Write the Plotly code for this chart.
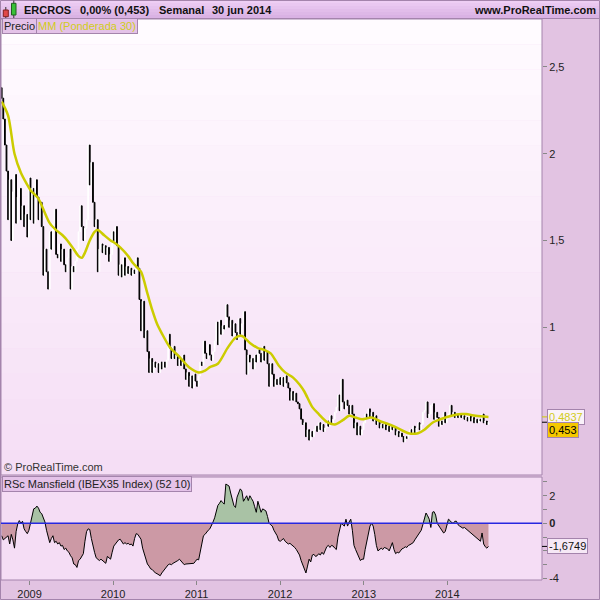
import plotly.graph_objects as go
import pandas as pd

# weekly closes (week of 2008-09-01 .. 2014-06-30)
first_open = 2.38
close_2008 = [2.32, 2.20, 2.05, 1.90, 1.62, 1.85, 1.50, 1.78, 1.88, 1.60,
              1.75, 1.80, 1.62, 1.70, 1.58, 1.65, 1.52, 1.86]
close_2009 = [1.62, 1.80, 1.60, 1.85, 1.75, 1.62, 1.72, 1.58, 1.30, 1.45,
              1.32, 1.22, 1.55, 1.45, 1.60, 1.68, 1.42, 1.40, 1.48, 1.38,
              1.45, 1.36, 1.32, 1.40, 1.45, 1.22, 1.35, 1.32, 1.38, 1.45,
              1.55, 1.70, 1.58, 1.50, 1.57, 1.62, 2.05, 1.82, 1.95, 1.72,
              1.58, 1.62, 1.32, 1.45, 1.48, 1.43, 1.47, 1.42, 1.46, 1.38,
              1.42, 1.55]
close_2010 = [1.50, 1.58, 1.47, 1.30, 1.36, 1.29, 1.40, 1.30, 1.35, 1.31,
              1.34, 1.30, 1.33, 1.31, 1.40, 1.34, 1.16, 0.98, 1.15, 0.94,
              0.98, 0.86, 0.74, 0.82, 0.74, 0.80, 0.77, 0.79, 0.74, 0.80,
              0.76, 0.80, 0.77, 0.81, 0.96, 0.88, 0.82, 0.89, 0.82, 0.84,
              0.78, 0.82, 0.78, 0.84, 0.76, 0.70, 0.74, 0.66, 0.72, 0.65,
              0.73, 0.69]
close_2011 = [0.66, 0.72, 0.80, 0.78, 0.92, 0.85, 0.82, 0.90, 0.84, 0.81,
              0.86, 0.92, 1.03, 0.90, 1.04, 0.96, 1.01, 0.99, 1.13, 1.06,
              1.00, 1.04, 0.95, 1.02, 0.97, 0.93, 1.05, 0.96, 1.02, 1.09,
              0.87, 0.73, 0.84, 0.80, 0.82, 0.76, 0.84, 0.80, 0.87, 0.85,
              0.80, 0.89, 0.81, 0.86, 0.79, 0.66, 0.79, 0.73, 0.66, 0.70,
              0.67, 0.71]
close_2012 = [0.67, 0.71, 0.66, 0.72, 0.68, 0.65, 0.58, 0.63, 0.58, 0.62,
              0.57, 0.56, 0.53, 0.47, 0.44, 0.45, 0.37, 0.41, 0.35, 0.40,
              0.37, 0.41, 0.43, 0.40, 0.45, 0.41, 0.44, 0.40, 0.42, 0.46,
              0.43, 0.49, 0.45, 0.47, 0.51, 0.54, 0.61, 0.52, 0.70, 0.57,
              0.53, 0.58, 0.55, 0.50, 0.55, 0.50, 0.42, 0.45, 0.38, 0.43,
              0.38, 0.41, 0.45]
close_2013 = [0.50, 0.48, 0.53, 0.48, 0.51, 0.46, 0.49, 0.44, 0.46, 0.42,
              0.44, 0.42, 0.44, 0.41, 0.43, 0.40, 0.43, 0.41, 0.42, 0.38,
              0.40, 0.37, 0.39, 0.37, 0.34, 0.37, 0.36, 0.38, 0.41, 0.39,
              0.43, 0.39, 0.42, 0.45, 0.41, 0.44, 0.51, 0.52, 0.57, 0.48,
              0.50, 0.55, 0.56, 0.47, 0.51, 0.48, 0.43, 0.46, 0.44, 0.51,
              0.45, 0.48]
close_2014 = [0.50, 0.55, 0.49, 0.51, 0.48, 0.50, 0.48, 0.50, 0.48, 0.49,
              0.47, 0.48, 0.46, 0.49, 0.46, 0.48, 0.45, 0.47, 0.45, 0.47,
              0.46, 0.50, 0.45, 0.46, 0.44, 0.453]

# weighted MA 30, read at some weeks (index into weekly series)
ma_week = [0, 4, 8, 12, 16, 18, 23, 26, 30, 34, 38, 41, 45, 48, 50, 52, 55, 58,
           60, 64, 68, 70, 74, 79, 82, 84, 87, 91, 94, 97, 100, 105, 111, 117,
           123, 127, 130, 135, 141, 146, 150, 155, 160, 164, 168, 173, 177, 182,
           186, 189, 194, 198, 203, 208, 213, 217, 221, 225, 231, 236, 242, 247,
           254, 260, 264, 269, 274, 281, 287, 290, 296, 304]
ma_value = [2.30, 2.22, 2.00, 1.89, 1.82, 1.79, 1.74, 1.68, 1.60, 1.56, 1.53,
            1.50, 1.45, 1.41, 1.40, 1.43, 1.50, 1.55, 1.56, 1.53, 1.50, 1.49,
            1.46, 1.41, 1.37, 1.35, 1.32, 1.195, 1.10, 1.02, 0.965, 0.885,
            0.83, 0.77, 0.74, 0.75, 0.77, 0.79, 0.88, 0.94, 0.95, 0.91, 0.88,
            0.87, 0.85, 0.78, 0.74, 0.71, 0.67, 0.63, 0.54, 0.50, 0.455, 0.44,
            0.465, 0.49, 0.48, 0.47, 0.48, 0.46, 0.44, 0.42, 0.39, 0.39, 0.41,
            0.45, 0.47, 0.49, 0.50, 0.50, 0.49, 0.4837]

# RSc Mansfield (IBEX35), weekly
rsc_2008 = [-0.9, -1.2, -1.1, -1.0, -0.9, -1.5, -0.8, -1.2, -1.8, -0.6,
            -0.05, 0.2, 0.0, 0.15, -0.4, -0.6, -0.75, -0.5]
rsc_2009 = [0.0, 0.6, 1.05, 1.1, 1.25, 1.1, 0.8, 0.7, 0.4, 0.1,
            -0.5, -1.0, -1.4, -1.1, -0.9, -1.4, -1.3, -1.5, -1.4, -1.65,
            -1.6, -1.9, -1.8, -2.0, -2.1, -2.35, -2.5, -2.95, -3.0, -3.2,
            -2.7, -2.6, -2.4, -2.2, -1.3, -0.6, -0.4, -0.45, -1.1, -1.7,
            -2.1, -2.5, -2.6, -2.7, -2.6, -2.7, -2.8, -2.9, -2.4, -2.5,
            -2.6, -2.1]
rsc_2010 = [-1.65, -1.5, -1.3, -1.2, -1.15, -1.3, -1.5, -1.4, -1.5, -1.45,
            -1.55, -1.5, -1.65, -1.1, -0.75, -0.8, -1.0, -1.15, -1.8, -2.2,
            -2.6, -2.95, -3.1, -3.3, -3.35, -3.5, -3.6, -3.65, -3.7, -3.8,
            -3.6, -3.45, -3.3, -3.2, -3.0, -2.95, -3.0, -2.9, -2.85, -2.8,
            -2.7, -2.6, -2.75, -2.9, -3.0, -2.95, -2.95, -2.9, -2.95, -2.9,
            -2.9, -2.75]
rsc_2011 = [-2.6, -2.65, -2.1, -1.3, -0.9, -0.8, -0.6, -0.5, -0.4, -0.2,
            0.1, 0.4, 0.9, 1.3, 1.45, 1.65, 1.5, 1.4, 2.85, 2.8,
            2.7, 2.2, 1.7, 1.3, 1.15, 1.9, 2.2, 2.5, 2.35, 1.6,
            1.8, 2.0, 1.65, 2.0, 1.8, 1.6, 1.2, 0.8, 1.6, 1.2,
            0.8, 1.05, 0.95, 0.9, 0.5, 0.0, -0.1, -0.2, -0.5, -0.7,
            -0.9, -1.25]
rsc_2012 = [-1.3, -1.2, -1.1, -1.3, -1.4, -1.5, -1.45, -1.55, -1.6, -1.75,
            -1.9, -2.1, -2.3, -2.7, -3.05, -3.3, -3.6, -3.1, -2.6, -2.8,
            -2.3, -2.25, -2.4, -2.35, -2.2, -2.3, -2.1, -2.25, -1.9, -1.7,
            -1.6, -1.75, -1.6, -1.65, -1.8, -1.9, -1.0, -0.5, 0.0, -0.1,
            -0.2, 0.3, -0.2, 0.1, 0.3, -0.5, -1.6, -1.9, -2.2, -2.5,
            -2.7, -2.6, -2.6]
rsc_2013 = [-1.9, -1.3, -0.6, -0.2, 0.0, -0.2, -0.8, -1.6, -2.0, -1.9,
            -1.8, -1.9, -1.75, -1.8, -1.85, -2.0, -1.7, -1.4, -1.9, -2.2,
            -2.1, -2.15, -2.0, -1.85, -1.8, -1.7, -1.75, -1.6, -1.55, -1.45,
            -1.4, -1.2, -1.0, -0.8, -0.7, -0.5, -0.1, 0.45, 0.75, 0.55,
            0.3, -0.3, 0.8, 0.85, 0.6, 0.0, -0.2, -0.3, -0.6, -0.7,
            -0.6, -0.2]
rsc_2014 = [0.3, 0.2, 0.05, 0.0, 0.15, 0.15, -0.1, -0.2, -0.25, -0.35,
            -0.3, -0.4, -0.5, -0.6, -0.75, -0.8, -0.9, -1.0, -1.1, -1.2,
            -1.3, -0.7, -1.5, -1.7, -1.8, -1.6749]

years = ["2009", "2010", "2011", "2012", "2013", "2014"]
price_ticks = [1, 1.5, 2, 2.5]
price_labels = ["1", "1,5", "2", "2,5"]

closes = close_2008 + close_2009 + close_2010 + close_2011 + close_2012 + close_2013 + close_2014
rsc = rsc_2008 + rsc_2009 + rsc_2010 + rsc_2011 + rsc_2012 + rsc_2013 + rsc_2014
weeks = pd.date_range("2008-09-01", periods=len(closes), freq="7D")

opens = [first_open] + closes[:-1]
highs = [max(o, c) for o, c in zip(opens, closes)]
lows = [min(o, c) for o, c in zip(opens, closes)]

W, H = 600, 600
L, R, T, B = 1, 58, 19, 20
BORDER = "#A484AC"
FONT = "Arial, Liberation Sans, sans-serif"


def px_x(p):
    return (p - L) / (W - L - R)


def px_y(p):
    return (H - B - p) / (H - T - B)


def mix(c0, c1, t):
    return "rgb(%d,%d,%d)" % tuple(round(a + (b - a) * t) for a, b in zip(c0, c1))


fig = go.Figure()

fig.add_trace(go.Candlestick(
    x=weeks, open=opens, high=highs, low=lows, close=closes,
    increasing=dict(line=dict(color="white", width=1), fillcolor="white"),
    decreasing=dict(line=dict(color="black", width=1), fillcolor="black"),
    whiskerwidth=0, hoverinfo="skip", showlegend=False, xaxis="x", yaxis="y"))

fig.add_trace(go.Scatter(
    x=weeks[ma_week], y=ma_value, mode="lines",
    line=dict(color="#CCCC00", width=2.5, shape="spline", smoothing=0.8),
    hoverinfo="skip", showlegend=False, xaxis="x", yaxis="y"))

pos = [max(v, 0) for v in rsc]
neg = [min(v, 0) for v in rsc]
fig.add_trace(go.Scatter(x=weeks, y=pos, mode="lines", fill="tozeroy",
                         fillcolor="#A9C2A5", line=dict(width=0),
                         hoverinfo="skip", showlegend=False, yaxis="y2"))
fig.add_trace(go.Scatter(x=weeks, y=neg, mode="lines", fill="tozeroy",
                         fillcolor="#CC99A5", line=dict(width=0),
                         hoverinfo="skip", showlegend=False, yaxis="y2"))
fig.add_trace(go.Scatter(x=weeks, y=rsc, mode="lines",
                         line=dict(color="black", width=1),
                         hoverinfo="skip", showlegend=False, yaxis="y2"))

shapes = []
# header bar gradient
n = 6
for k in range(n):
    y0, y1 = k * 18 / n, (k + 1) * 18 / n
    shapes.append(dict(type="rect", xref="paper", yref="paper", layer="below",
                       x0=px_x(0), x1=px_x(600), y0=px_y(y1), y1=px_y(y0),
                       fillcolor=mix((238, 206, 244), (218, 178, 228), k / (n - 1)),
                       line=dict(width=0)))
# price panel gradient
n = 18
for k in range(n):
    y0 = 19 + k * (475 - 19) / n
    y1 = 19 + (k + 1) * (475 - 19) / n
    shapes.append(dict(type="rect", xref="paper", yref="paper", layer="below",
                       x0=0, x1=1, y0=px_y(y1), y1=px_y(y0),
                       fillcolor=mix((255, 251, 255), (245, 222, 245), k / (n - 1)),
                       line=dict(width=0)))
# panel borders
shapes.append(dict(type="line", xref="paper", yref="paper", x0=px_x(0), x1=px_x(600),
                   y0=px_y(18.5), y1=px_y(18.5), line=dict(color=BORDER, width=1)))
shapes.append(dict(type="rect", xref="paper", yref="paper", x0=0, x1=1,
                   y0=px_y(475), y1=1, line=dict(color=BORDER, width=1)))
shapes.append(dict(type="rect", xref="paper", yref="paper", x0=0, x1=1,
                   y0=0, y1=px_y(477), line=dict(color=BORDER, width=1)))
shapes.append(dict(type="rect", xref="paper", yref="paper", x0=px_x(0.5), x1=px_x(599.5),
                   y0=px_y(599.5), y1=px_y(0.5), line=dict(color=BORDER, width=1)))
# zero line of RSc
shapes.append(dict(type="line", xref="paper", yref="y2", x0=0, x1=1, y0=0, y1=0,
                   line=dict(color="#2828E0", width=1.5)))
# small ticks next to last values
shapes.append(dict(type="line", xref="paper", yref="y", x0=1, x1=px_x(547),
                   y0=ma_value[-1], y1=ma_value[-1], line=dict(color="#CCCC00", width=1)))
shapes.append(dict(type="line", xref="paper", yref="y", x0=1, x1=px_x(547),
                   y0=closes[-1], y1=closes[-1], line=dict(color="black", width=1)))
shapes.append(dict(type="line", xref="paper", yref="y2", x0=1, x1=px_x(547),
                   y0=rsc[-1], y1=rsc[-1], line=dict(color="black", width=1)))
# header candle icon
for x, yt, yb, col in [(5.8, 7, 19, "#333333"), (13.8, 0.5, 18, "#333333")]:
    shapes.append(dict(type="line", xref="paper", yref="paper", x0=px_x(x), x1=px_x(x),
                       y0=px_y(yb), y1=px_y(yt), line=dict(color=col, width=1)))
shapes.append(dict(type="rect", xref="paper", yref="paper", x0=px_x(3.3), x1=px_x(8.3),
                   y0=px_y(16.7), y1=px_y(10), fillcolor="#E04848",
                   line=dict(color="#802020", width=1)))
shapes.append(dict(type="rect", xref="paper", yref="paper", x0=px_x(11.5), x1=px_x(16),
                   y0=px_y(15), y1=px_y(3.3), fillcolor="#38C038",
                   line=dict(color="#206020", width=1)))

ann = []


def text(x, y, s, size=11, color="#111111", anchor="left", **kw):
    d = dict(xref="paper", yref="paper", x=px_x(x), y=px_y(y), text=s, showarrow=False,
             xanchor=anchor, yanchor="middle", font=dict(family=FONT, size=size, color=color))
    d.update(kw)
    ann.append(d)


text(22, 10, "<b>ERCROS</b>")
text(78, 10, "<b>0,00% (0,453)</b>")
text(157, 10, "<b>Semanal</b>")
text(210, 10, "<b>30 jun 2014</b>")
text(598, 10, "<b>www.ProRealTime.com</b>", anchor="right")
box = dict(bgcolor="#E4C2E8", bordercolor=BORDER, borderwidth=1, borderpad=1)
text(1.5, 26, "Precio", color="#222222", **box)
text(35.5, 26, "MM (Ponderada 30)", color="#D0CC20", **box)
text(2, 467, "© ProRealTime.com", color="#333333")
text(1.5, 484, "RSc Mansfield (IBEX35 Index) (52 10)", color="#222222", **box)

ann.append(dict(xref="paper", yref="y", x=px_x(547), y=ma_value[-1], text="0,4837",
                showarrow=False, xanchor="left", yanchor="middle",
                font=dict(family=FONT, size=11, color="#D0CC20"),
                bgcolor="#FAF2FA", bordercolor=BORDER, borderwidth=1, borderpad=1))
ann.append(dict(xref="paper", yref="y", x=px_x(547), y=closes[-1], yshift=-8, text="0,453",
                showarrow=False, xanchor="left", yanchor="middle",
                font=dict(family=FONT, size=11, color="black"),
                bgcolor="#F5C800", bordercolor=BORDER, borderwidth=1, borderpad=1))
ann.append(dict(xref="paper", yref="y2", x=px_x(547), y=rsc[-1], text="-1,6749",
                showarrow=False, xanchor="left", yanchor="middle",
                font=dict(family=FONT, size=11, color="#111111"),
                bgcolor="#F6E8F6", bordercolor=BORDER, borderwidth=1, borderpad=1))

tickfont = dict(family=FONT, size=11, color="#222222")
fig.update_layout(
    width=W, height=H,
    margin=dict(l=L, r=R, t=T, b=B),
    paper_bgcolor="#E2C3E2",
    plot_bgcolor="#F5DDF5",
    showlegend=False,
    hovermode=False,
    shapes=shapes,
    annotations=ann,
    xaxis=dict(domain=[0, 1], anchor="y2", type="date",
               range=["2008-08-29", "2015-02-19"],
               rangeslider=dict(visible=False),
               tickvals=[y + "-01-01" for y in years], ticktext=years,
               ticks="outside", ticklen=4, tickcolor="#888888", tickfont=tickfont,
               showgrid=False, zeroline=False, showline=False),
    yaxis=dict(domain=[px_y(475), 1], anchor="x", side="right",
               range=[0.149, 2.776], tickvals=price_ticks, ticktext=price_labels,
               ticks="outside", ticklen=4, tickcolor="#888888", tickfont=tickfont,
               showgrid=False, zeroline=False, showline=False),
    yaxis2=dict(domain=[0, px_y(477)], anchor="x", side="right",
                range=[-4.11, 3.36], tickvals=[2, 0, -4],
                ticktext=["2", "<b>0</b>", "-4"],
                ticks="outside", ticklen=4, tickcolor="#888888", tickfont=tickfont,
                minor=dict(dtick=1, ticks="outside", ticklen=4, tickcolor="#888888"),
                showgrid=False, zeroline=False, showline=False),
)

# the page body has a default 8px margin; drop it so the figure fills the window
fig.write_html("out.html", config={"displayModeBar": False},
               post_script="document.body.style.margin='0px';")
